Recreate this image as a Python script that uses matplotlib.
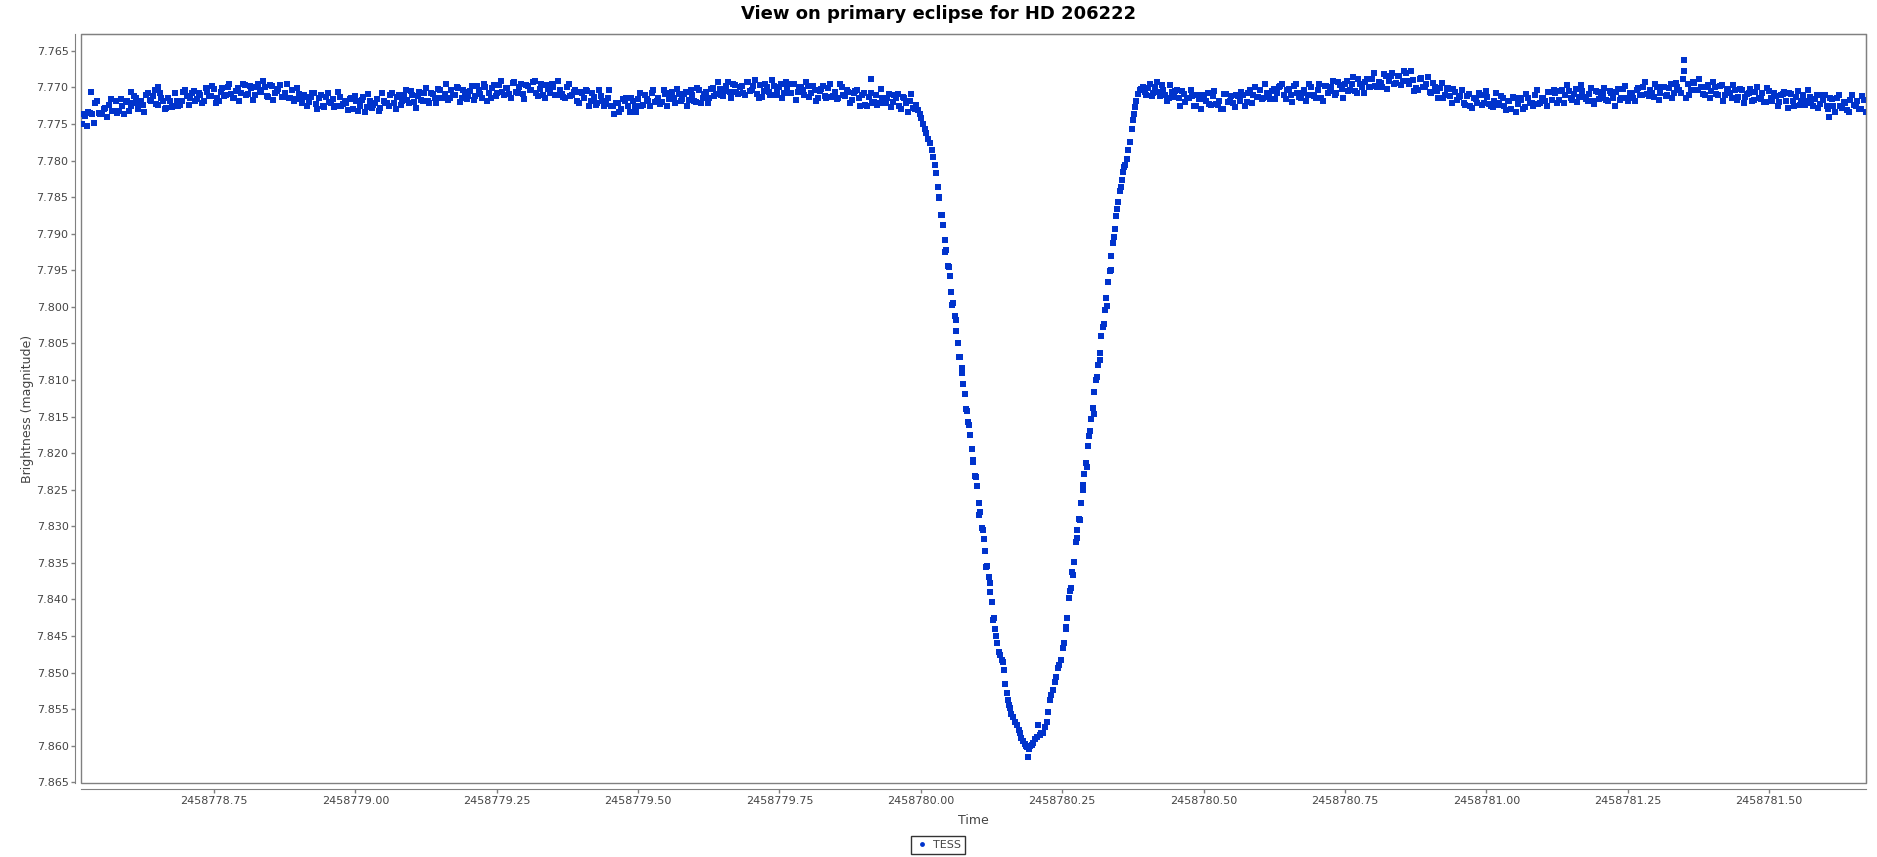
import matplotlib
matplotlib.use("Agg")
import numpy as np
import matplotlib.pyplot as plt
from matplotlib.patches import Rectangle
from matplotlib.lines import Line2D

# TESS light curve of HD 206222 around the primary eclipse
# times are BJD - 2458778, brightness in magnitudes
BJD_OFFSET = 2458778.0

pre_eclipse = [
    (0.516, 7.7750), (0.522, 7.7739), (0.528, 7.7733), (0.532, 7.7706), (0.534, 7.7736), (0.540, 7.7722),
    (0.546, 7.7735), (0.552, 7.7737), (0.558, 7.7728), (0.564, 7.7724), (0.570, 7.7732), (0.576, 7.7719),
    (0.582, 7.7732), (0.588, 7.7725), (0.594, 7.7720), (0.600, 7.7732), (0.603, 7.7706), (0.606, 7.7722),
    (0.612, 7.7715), (0.618, 7.7723), (0.624, 7.7724), (0.630, 7.7710), (0.636, 7.7717), (0.642, 7.7712),
    (0.648, 7.7723), (0.651, 7.7699), (0.654, 7.7707), (0.660, 7.7719), (0.666, 7.7728), (0.672, 7.7718),
    (0.678, 7.7726), (0.684, 7.7718), (0.690, 7.7724), (0.696, 7.7706), (0.702, 7.7712), (0.708, 7.7715),
    (0.714, 7.7705), (0.720, 7.7716), (0.726, 7.7710), (0.732, 7.7719), (0.738, 7.7706), (0.744, 7.7712),
    (0.750, 7.7702), (0.756, 7.7715), (0.762, 7.7706), (0.768, 7.7712), (0.774, 7.7699), (0.780, 7.7709),
    (0.786, 7.7714), (0.792, 7.7701), (0.798, 7.7708), (0.804, 7.7697), (0.810, 7.7709), (0.816, 7.7701),
    (0.822, 7.7711), (0.828, 7.7696), (0.834, 7.7706), (0.840, 7.7700), (0.846, 7.7713), (0.852, 7.7698),
    (0.858, 7.7708), (0.864, 7.7702), (0.870, 7.7713), (0.876, 7.7707), (0.882, 7.7715), (0.888, 7.7703),
    (0.894, 7.7716), (0.900, 7.7709), (0.906, 7.7722), (0.912, 7.7713), (0.918, 7.7720), (0.924, 7.7707),
    (0.930, 7.7723), (0.936, 7.7714), (0.942, 7.7726), (0.948, 7.7713), (0.954, 7.7720), (0.960, 7.7716),
    (0.966, 7.7725), (0.972, 7.7713), (0.978, 7.7723), (0.984, 7.7721), (0.990, 7.7716), (0.996, 7.7729),
    (1.002, 7.7719), (1.008, 7.7725), (1.014, 7.7713), (1.020, 7.7727), (1.026, 7.7719), (1.032, 7.7724),
    (1.038, 7.7716), (1.044, 7.7728), (1.050, 7.7718), (1.056, 7.7722), (1.062, 7.7710), (1.068, 7.7722),
    (1.074, 7.7713), (1.080, 7.7724), (1.086, 7.7710), (1.092, 7.7717), (1.098, 7.7705), (1.104, 7.7720),
    (1.110, 7.7712), (1.116, 7.7717), (1.122, 7.7707), (1.128, 7.7719), (1.134, 7.7708), (1.140, 7.7714),
    (1.146, 7.7702), (1.152, 7.7715), (1.158, 7.7709), (1.164, 7.7717), (1.170, 7.7704), (1.176, 7.7711),
    (1.182, 7.7701), (1.188, 7.7714), (1.194, 7.7706), (1.200, 7.7712), (1.206, 7.7698), (1.212, 7.7712),
    (1.218, 7.7704), (1.224, 7.7714), (1.230, 7.7700), (1.236, 7.7707), (1.242, 7.7701), (1.248, 7.7712),
    (1.254, 7.7697), (1.260, 7.7706), (1.266, 7.7701), (1.272, 7.7709), (1.278, 7.7694), (1.284, 7.7706),
    (1.290, 7.7699), (1.296, 7.7709), (1.302, 7.7697), (1.308, 7.7704), (1.314, 7.7693), (1.320, 7.7708),
    (1.326, 7.7702), (1.332, 7.7711), (1.338, 7.7697), (1.344, 7.7707), (1.350, 7.7700), (1.356, 7.7710),
    (1.362, 7.7703), (1.368, 7.7713), (1.374, 7.7700), (1.380, 7.7712), (1.386, 7.7706), (1.392, 7.7718),
    (1.398, 7.7706), (1.404, 7.7715), (1.410, 7.7705), (1.416, 7.7719), (1.422, 7.7713), (1.428, 7.7721),
    (1.434, 7.7712), (1.440, 7.7725), (1.446, 7.7715), (1.452, 7.7726), (1.458, 7.7737), (1.464, 7.7722),
    (1.470, 7.7729), (1.476, 7.7718), (1.482, 7.7725), (1.488, 7.7715), (1.494, 7.7725), (1.500, 7.7716),
    (1.506, 7.7725), (1.512, 7.7711), (1.518, 7.7718), (1.524, 7.7708), (1.530, 7.7720), (1.536, 7.7714),
    (1.542, 7.7720), (1.548, 7.7709), (1.554, 7.7716), (1.560, 7.7706), (1.566, 7.7721), (1.572, 7.7709),
    (1.578, 7.7716), (1.584, 7.7706), (1.590, 7.7717), (1.596, 7.7711), (1.602, 7.7720), (1.608, 7.7704),
    (1.614, 7.7714), (1.620, 7.7706), (1.626, 7.7715), (1.632, 7.7701), (1.638, 7.7709), (1.644, 7.7702),
    (1.650, 7.7712), (1.656, 7.7698), (1.662, 7.7706), (1.668, 7.7695), (1.674, 7.7706), (1.680, 7.7699),
    (1.686, 7.7707), (1.692, 7.7693), (1.698, 7.7705), (1.704, 7.7698), (1.710, 7.7709), (1.716, 7.7697),
    (1.722, 7.7705), (1.728, 7.7700), (1.734, 7.7711), (1.740, 7.7698), (1.746, 7.7706), (1.752, 7.7695),
    (1.758, 7.7707), (1.764, 7.7700), (1.770, 7.7708), (1.776, 7.7695), (1.782, 7.7706), (1.788, 7.7699),
    (1.794, 7.7711), (1.800, 7.7698), (1.806, 7.7707), (1.812, 7.7703), (1.818, 7.7714), (1.824, 7.7702),
    (1.830, 7.7712), (1.836, 7.7701), (1.842, 7.7713), (1.848, 7.7706), (1.854, 7.7714), (1.860, 7.7700),
    (1.866, 7.7712), (1.872, 7.7706), (1.878, 7.7717), (1.884, 7.7705), (1.890, 7.7714), (1.896, 7.7711),
    (1.902, 7.7724), (1.908, 7.7713), (1.912, 7.7688), (1.914, 7.7721), (1.920, 7.7710), (1.926, 7.7721),
    (1.932, 7.7714), (1.938, 7.7722), (1.944, 7.7709), (1.950, 7.7720), (1.956, 7.7714), (1.962, 7.7725),
    (1.968, 7.7713), (1.974, 7.7722), (1.980, 7.7718), (1.986, 7.7728), (1.992, 7.7724),
]

# second read of the same band (points in between the ones above)
pre_eclipse_b = [
    (0.519, 7.7736), (0.525, 7.7753), (0.531, 7.7735), (0.537, 7.7748), (0.543, 7.7719), (0.549, 7.7737),
    (0.555, 7.7729), (0.561, 7.7740), (0.567, 7.7716), (0.573, 7.7732), (0.579, 7.7735), (0.585, 7.7716),
    (0.591, 7.7737), (0.597, 7.7718), (0.603, 7.7725), (0.609, 7.7712), (0.615, 7.7729), (0.621, 7.7718),
    (0.627, 7.7733), (0.633, 7.7708), (0.639, 7.7719), (0.645, 7.7703), (0.651, 7.7724), (0.657, 7.7714),
    (0.663, 7.7729), (0.669, 7.7715), (0.675, 7.7727), (0.681, 7.7708), (0.687, 7.7726), (0.693, 7.7718),
    (0.699, 7.7704), (0.705, 7.7724), (0.711, 7.7707), (0.717, 7.7719), (0.723, 7.7708), (0.729, 7.7721),
    (0.735, 7.7701), (0.741, 7.7712), (0.747, 7.7698), (0.753, 7.7722), (0.759, 7.7719), (0.765, 7.7701),
    (0.771, 7.7711), (0.777, 7.7695), (0.783, 7.7715), (0.789, 7.7705), (0.795, 7.7718), (0.801, 7.7695),
    (0.807, 7.7710), (0.813, 7.7698), (0.819, 7.7717), (0.825, 7.7699), (0.831, 7.7703), (0.837, 7.7691),
    (0.843, 7.7712), (0.849, 7.7697), (0.855, 7.7717), (0.861, 7.7705), (0.867, 7.7697), (0.873, 7.7713),
    (0.879, 7.7695), (0.885, 7.7714), (0.891, 7.7719), (0.897, 7.7701), (0.903, 7.7716), (0.909, 7.7710),
    (0.915, 7.7726), (0.921, 7.7713), (0.927, 7.7708), (0.933, 7.7730), (0.939, 7.7711), (0.945, 7.7727),
    (0.951, 7.7708), (0.957, 7.7722), (0.963, 7.7727), (0.969, 7.7706), (0.975, 7.7725), (0.981, 7.7718),
    (0.987, 7.7731), (0.993, 7.7714), (0.999, 7.7712), (1.005, 7.7732), (1.011, 7.7717), (1.017, 7.7734),
    (1.023, 7.7709), (1.029, 7.7728), (1.035, 7.7721), (1.041, 7.7732), (1.047, 7.7708), (1.053, 7.7722),
    (1.059, 7.7726), (1.065, 7.7707), (1.071, 7.7729), (1.077, 7.7710), (1.083, 7.7718), (1.089, 7.7704),
    (1.095, 7.7722), (1.101, 7.7711), (1.107, 7.7728), (1.113, 7.7706), (1.119, 7.7718), (1.125, 7.7701),
    (1.131, 7.7721), (1.137, 7.7709), (1.143, 7.7722), (1.149, 7.7703), (1.155, 7.7714), (1.161, 7.7696),
    (1.167, 7.7715), (1.173, 7.7710), (1.179, 7.7699), (1.185, 7.7720), (1.191, 7.7703), (1.197, 7.7716),
    (1.203, 7.7705), (1.209, 7.7717), (1.215, 7.7698), (1.221, 7.7709), (1.227, 7.7695), (1.233, 7.7719),
    (1.239, 7.7715), (1.245, 7.7697), (1.251, 7.7707), (1.257, 7.7691), (1.263, 7.7710), (1.269, 7.7701),
    (1.275, 7.7715), (1.281, 7.7692), (1.287, 7.7707), (1.293, 7.7696), (1.299, 7.7716), (1.305, 7.7698),
    (1.311, 7.7703), (1.317, 7.7691), (1.323, 7.7712), (1.329, 7.7696), (1.335, 7.7715), (1.341, 7.7702),
    (1.347, 7.7695), (1.353, 7.7710), (1.359, 7.7691), (1.365, 7.7709), (1.371, 7.7714), (1.377, 7.7695),
    (1.383, 7.7710), (1.389, 7.7704), (1.395, 7.7721), (1.401, 7.7708), (1.407, 7.7704), (1.413, 7.7726),
    (1.419, 7.7708), (1.425, 7.7724), (1.431, 7.7704), (1.437, 7.7719), (1.443, 7.7723), (1.449, 7.7704),
    (1.455, 7.7726), (1.461, 7.7721), (1.467, 7.7734), (1.473, 7.7716), (1.479, 7.7714), (1.485, 7.7733),
    (1.491, 7.7718), (1.497, 7.7734), (1.503, 7.7707), (1.509, 7.7724), (1.515, 7.7716), (1.521, 7.7726),
    (1.527, 7.7703), (1.533, 7.7718), (1.539, 7.7723), (1.545, 7.7704), (1.551, 7.7726), (1.557, 7.7707),
    (1.563, 7.7715), (1.569, 7.7702), (1.575, 7.7719), (1.581, 7.7709), (1.587, 7.7726), (1.593, 7.7704),
    (1.599, 7.7718), (1.605, 7.7701), (1.611, 7.7721), (1.617, 7.7709), (1.623, 7.7721), (1.629, 7.7702),
    (1.635, 7.7712), (1.641, 7.7693), (1.647, 7.7711), (1.653, 7.7705), (1.659, 7.7693), (1.665, 7.7714),
    (1.671, 7.7697), (1.677, 7.7709), (1.683, 7.7698), (1.689, 7.7711), (1.695, 7.7692), (1.701, 7.7704),
    (1.707, 7.7690), (1.713, 7.7715), (1.719, 7.7713), (1.725, 7.7695), (1.731, 7.7706), (1.737, 7.7690),
    (1.743, 7.7710), (1.749, 7.7700), (1.755, 7.7714), (1.761, 7.7692), (1.767, 7.7707), (1.773, 7.7696),
    (1.779, 7.7717), (1.785, 7.7699), (1.791, 7.7704), (1.797, 7.7693), (1.803, 7.7713), (1.809, 7.7698),
    (1.815, 7.7718), (1.821, 7.7705), (1.827, 7.7698), (1.833, 7.7714), (1.839, 7.7695), (1.845, 7.7712),
    (1.851, 7.7716), (1.857, 7.7696), (1.863, 7.7710), (1.869, 7.7704), (1.875, 7.7721), (1.881, 7.7707),
    (1.887, 7.7703), (1.893, 7.7725), (1.899, 7.7708), (1.905, 7.7725), (1.911, 7.7707), (1.917, 7.7720),
    (1.923, 7.7724), (1.929, 7.7702), (1.935, 7.7721), (1.941, 7.7714), (1.947, 7.7727), (1.953, 7.7710),
    (1.959, 7.7709), (1.965, 7.7729), (1.971, 7.7715), (1.977, 7.7733), (1.983, 7.7709), (1.989, 7.7729),
]

ingress = [
    (1.995, 7.7731), (1.998, 7.7736), (2.001, 7.7742), (2.004, 7.7750), (2.007, 7.7757), (2.010, 7.7763),
    (2.013, 7.7770), (2.016, 7.7776), (2.019, 7.7785), (2.022, 7.7795), (2.025, 7.7806), (2.027, 7.7817),
    (2.030, 7.7836), (2.033, 7.7851), (2.036, 7.7874), (2.039, 7.7888), (2.042, 7.7909), (2.045, 7.7922),
    (2.048, 7.7944), (2.051, 7.7958), (2.054, 7.7980), (2.057, 7.7995), (2.060, 7.8012), (2.063, 7.8033),
    (2.066, 7.8049), (2.069, 7.8069), (2.072, 7.8084), (2.075, 7.8105), (2.078, 7.8119), (2.081, 7.8142),
    (2.084, 7.8157), (2.087, 7.8175), (2.090, 7.8195), (2.093, 7.8210), (2.096, 7.8231), (2.099, 7.8245),
    (2.102, 7.8268), (2.105, 7.8280), (2.108, 7.8302), (2.111, 7.8318), (2.114, 7.8334), (2.117, 7.8354),
    (2.120, 7.8370), (2.123, 7.8390), (2.126, 7.8404), (2.129, 7.8426), (2.132, 7.8441), (2.135, 7.8460),
    (2.0315, 7.7850), (2.0375, 7.7874), (2.0435, 7.7925), (2.0495, 7.7946), (2.0555, 7.7997),
    (2.0615, 7.8018), (2.0675, 7.8068), (2.0735, 7.8090), (2.0795, 7.8140), (2.0855, 7.8162),
    (2.0915, 7.8212), (2.0975, 7.8233), (2.1035, 7.8284), (2.1095, 7.8305), (2.1155, 7.8356),
    (2.1215, 7.8377), (2.1275, 7.8428), (2.1335, 7.8450),
]

eclipse_bottom = [
    (2.138, 7.8472), (2.140, 7.8476), (2.143, 7.8483), (2.145, 7.8486), (2.147, 7.8497), (2.149, 7.8515),
    (2.152, 7.8528), (2.154, 7.8538), (2.156, 7.8544), (2.158, 7.8549), (2.160, 7.8556), (2.163, 7.8561),
    (2.166, 7.8568), (2.170, 7.8572), (2.173, 7.8579), (2.175, 7.8583), (2.178, 7.8590), (2.181, 7.8593),
    (2.184, 7.8597), (2.186, 7.8600), (2.188, 7.8602), (2.189, 7.8616), (2.191, 7.8604), (2.193, 7.8601),
    (2.196, 7.8599), (2.199, 7.8596), (2.202, 7.8591), (2.205, 7.8588), (2.207, 7.8572), (2.210, 7.8585),
    (2.213, 7.8583), (2.216, 7.8582), (2.219, 7.8575), (2.223, 7.8568), (2.225, 7.8554), (2.228, 7.8538),
    (2.231, 7.8531), (2.234, 7.8524), (2.237, 7.8513), (2.239, 7.8506), (2.242, 7.8494), (2.245, 7.8489),
    (2.248, 7.8483), (2.251, 7.8467), (2.253, 7.8459),
]

egress = [
    (2.256, 7.8441), (2.259, 7.8425), (2.262, 7.8398), (2.265, 7.8384), (2.268, 7.8362), (2.271, 7.8349),
    (2.274, 7.8322), (2.277, 7.8305), (2.280, 7.8290), (2.283, 7.8268), (2.286, 7.8251), (2.289, 7.8229),
    (2.292, 7.8214), (2.295, 7.8190), (2.298, 7.8176), (2.301, 7.8153), (2.304, 7.8138), (2.307, 7.8117),
    (2.310, 7.8100), (2.313, 7.8079), (2.316, 7.8063), (2.319, 7.8040), (2.322, 7.8027), (2.325, 7.8004),
    (2.328, 7.7988), (2.331, 7.7966), (2.334, 7.7951), (2.337, 7.7930), (2.340, 7.7913), (2.343, 7.7894),
    (2.346, 7.7876), (2.349, 7.7857), (2.352, 7.7842), (2.355, 7.7827), (2.358, 7.7815), (2.361, 7.7806),
    (2.364, 7.7798), (2.367, 7.7786), (2.370, 7.7775), (2.373, 7.7757), (2.375, 7.7744), (2.377, 7.7736),
    (2.379, 7.7727), (2.381, 7.7718), (2.384, 7.7709), (2.387, 7.7704), (2.390, 7.7702), (2.393, 7.7700),
    (2.2575, 7.8438), (2.2635, 7.8389), (2.2695, 7.8366), (2.2755, 7.8316), (2.2815, 7.8292),
    (2.2875, 7.8243), (2.2935, 7.8219), (2.2995, 7.8170), (2.3055, 7.8146), (2.3115, 7.8096),
    (2.3175, 7.8073), (2.3235, 7.8023), (2.3295, 7.7999), (2.3355, 7.7950), (2.3415, 7.7904),
    (2.3475, 7.7866), (2.3535, 7.7836), (2.3595, 7.7809),
]

post_eclipse = [
    (2.396, 7.7706), (2.402, 7.7701), (2.408, 7.7712), (2.414, 7.7699), (2.420, 7.7706), (2.426, 7.7697),
    (2.432, 7.7710), (2.438, 7.7714), (2.444, 7.7706), (2.450, 7.7705), (2.456, 7.7714), (2.462, 7.7705),
    (2.468, 7.7720), (2.474, 7.7715), (2.480, 7.7712), (2.486, 7.7726), (2.492, 7.7716), (2.498, 7.7710),
    (2.504, 7.7719), (2.510, 7.7723), (2.516, 7.7712), (2.522, 7.7723), (2.528, 7.7719), (2.534, 7.7729),
    (2.540, 7.7709), (2.546, 7.7718), (2.552, 7.7722), (2.558, 7.7710), (2.564, 7.7718), (2.570, 7.7711),
    (2.576, 7.7720), (2.582, 7.7704), (2.588, 7.7711), (2.594, 7.7713), (2.600, 7.7703), (2.606, 7.7714),
    (2.612, 7.7707), (2.618, 7.7716), (2.624, 7.7702), (2.630, 7.7708), (2.636, 7.7698), (2.642, 7.7711),
    (2.648, 7.7703), (2.654, 7.7711), (2.660, 7.7698), (2.666, 7.7708), (2.672, 7.7715), (2.678, 7.7703),
    (2.684, 7.7711), (2.690, 7.7699), (2.696, 7.7712), (2.702, 7.7704), (2.708, 7.7714), (2.714, 7.7698),
    (2.720, 7.7707), (2.726, 7.7699), (2.732, 7.7710), (2.738, 7.7693), (2.744, 7.7702), (2.750, 7.7695),
    (2.756, 7.7705), (2.762, 7.7696), (2.768, 7.7705), (2.774, 7.7689), (2.780, 7.7700), (2.786, 7.7693),
    (2.792, 7.7700), (2.798, 7.7688), (2.804, 7.7698), (2.810, 7.7692), (2.816, 7.7700), (2.822, 7.7685),
    (2.828, 7.7691), (2.834, 7.7681), (2.840, 7.7694), (2.846, 7.7684), (2.852, 7.7691), (2.858, 7.7681),
    (2.864, 7.7695), (2.870, 7.7690), (2.876, 7.7701), (2.882, 7.7689), (2.888, 7.7700), (2.894, 7.7695),
    (2.900, 7.7706), (2.906, 7.7694), (2.912, 7.7705), (2.918, 7.7701), (2.924, 7.7714), (2.930, 7.7702),
    (2.936, 7.7712), (2.942, 7.7702), (2.948, 7.7717), (2.954, 7.7712), (2.960, 7.7721), (2.966, 7.7712),
    (2.972, 7.7725), (2.978, 7.7714), (2.984, 7.7722), (2.990, 7.7711), (2.996, 7.7721), (3.002, 7.7713),
    (3.008, 7.7726), (3.014, 7.7719), (3.020, 7.7724), (3.026, 7.7712), (3.032, 7.7725), (3.038, 7.7718),
    (3.044, 7.7729), (3.050, 7.7715), (3.056, 7.7723), (3.062, 7.7717), (3.068, 7.7727), (3.074, 7.7714),
    (3.080, 7.7721), (3.086, 7.7710), (3.092, 7.7723), (3.098, 7.7714), (3.104, 7.7719), (3.110, 7.7706),
    (3.116, 7.7717), (3.122, 7.7708), (3.128, 7.7717), (3.134, 7.7703), (3.140, 7.7711), (3.146, 7.7705),
    (3.152, 7.7717), (3.158, 7.7702), (3.164, 7.7713), (3.170, 7.7705), (3.176, 7.7716), (3.182, 7.7709),
    (3.188, 7.7719), (3.194, 7.7705), (3.200, 7.7716), (3.206, 7.7709), (3.212, 7.7717), (3.218, 7.7705),
    (3.224, 7.7714), (3.230, 7.7706), (3.236, 7.7717), (3.242, 7.7702), (3.248, 7.7714), (3.254, 7.7707),
    (3.260, 7.7714), (3.266, 7.7703), (3.272, 7.7711), (3.278, 7.7700), (3.284, 7.7709), (3.290, 7.7703),
    (3.296, 7.7713), (3.302, 7.7699), (3.308, 7.7707), (3.314, 7.7700), (3.320, 7.7711), (3.326, 7.7696),
    (3.332, 7.7708), (3.338, 7.7700), (3.344, 7.7707), (3.349, 7.7663), (3.350, 7.7677), (3.356, 7.7695),
    (3.362, 7.7704), (3.368, 7.7694), (3.374, 7.7704), (3.380, 7.7699), (3.386, 7.7710), (3.392, 7.7697),
    (3.398, 7.7705), (3.404, 7.7700), (3.410, 7.7711), (3.416, 7.7697), (3.422, 7.7711), (3.428, 7.7705),
    (3.434, 7.7714), (3.440, 7.7703), (3.446, 7.7713), (3.452, 7.7703), (3.458, 7.7713), (3.464, 7.7708),
    (3.470, 7.7719), (3.476, 7.7706), (3.482, 7.7714), (3.488, 7.7708), (3.494, 7.7720), (3.500, 7.7705),
    (3.506, 7.7718), (3.512, 7.7712), (3.518, 7.7720), (3.524, 7.7709), (3.530, 7.7719), (3.536, 7.7708),
    (3.542, 7.7719), (3.548, 7.7713), (3.554, 7.7724), (3.560, 7.7711), (3.566, 7.7719), (3.572, 7.7713),
    (3.578, 7.7725), (3.584, 7.7710), (3.590, 7.7723), (3.596, 7.7717), (3.602, 7.7725), (3.606, 7.7740),
    (3.608, 7.7715), (3.614, 7.7725), (3.620, 7.7715), (3.626, 7.7725), (3.632, 7.7720), (3.638, 7.7731),
    (3.644, 7.7717), (3.650, 7.7724), (3.656, 7.7718), (3.662, 7.7729), (3.668, 7.7717),
]

post_eclipse_b = [
    (2.399, 7.7711), (2.405, 7.7696), (2.411, 7.7707), (2.417, 7.7692), (2.423, 7.7712), (2.429, 7.7704),
    (2.435, 7.7718), (2.441, 7.7697), (2.447, 7.7713), (2.453, 7.7704), (2.459, 7.7725), (2.465, 7.7709),
    (2.471, 7.7715), (2.477, 7.7704), (2.483, 7.7725), (2.489, 7.7710), (2.495, 7.7729), (2.501, 7.7716),
    (2.507, 7.7708), (2.513, 7.7724), (2.519, 7.7705), (2.525, 7.7724), (2.531, 7.7730), (2.537, 7.7709),
    (2.543, 7.7720), (2.549, 7.7712), (2.555, 7.7727), (2.561, 7.7712), (2.567, 7.7706), (2.573, 7.7726),
    (2.579, 7.7707), (2.585, 7.7721), (2.591, 7.7700), (2.597, 7.7713), (2.603, 7.7716), (2.609, 7.7695),
    (2.615, 7.7713), (2.621, 7.7705), (2.627, 7.7716), (2.633, 7.7699), (2.639, 7.7696), (2.645, 7.7716),
    (2.651, 7.7702), (2.657, 7.7720), (2.663, 7.7695), (2.669, 7.7713), (2.675, 7.7707), (2.681, 7.7718),
    (2.687, 7.7695), (2.693, 7.7710), (2.699, 7.7715), (2.705, 7.7696), (2.711, 7.7718), (2.717, 7.7698),
    (2.723, 7.7705), (2.729, 7.7691), (2.735, 7.7708), (2.741, 7.7697), (2.747, 7.7714), (2.753, 7.7691),
    (2.759, 7.7704), (2.765, 7.7686), (2.771, 7.7707), (2.777, 7.7695), (2.783, 7.7708), (2.789, 7.7689),
    (2.795, 7.7699), (2.801, 7.7680), (2.807, 7.7700), (2.813, 7.7694), (2.819, 7.7682), (2.825, 7.7702),
    (2.831, 7.7684), (2.837, 7.7696), (2.843, 7.7685), (2.849, 7.7697), (2.855, 7.7678), (2.861, 7.7691),
    (2.867, 7.7678), (2.873, 7.7705), (2.879, 7.7704), (2.885, 7.7687), (2.891, 7.7700), (2.897, 7.7686),
    (2.903, 7.7707), (2.909, 7.7699), (2.915, 7.7715), (2.921, 7.7694), (2.927, 7.7711), (2.933, 7.7701),
    (2.939, 7.7722), (2.945, 7.7706), (2.951, 7.7713), (2.957, 7.7703), (2.963, 7.7724), (2.969, 7.7709),
    (2.975, 7.7728), (2.981, 7.7716), (2.987, 7.7708), (2.993, 7.7724), (2.999, 7.7705), (3.005, 7.7723),
    (3.011, 7.7727), (3.017, 7.7708), (3.023, 7.7722), (3.029, 7.7715), (3.035, 7.7731), (3.041, 7.7718),
    (3.047, 7.7713), (3.053, 7.7734), (3.059, 7.7715), (3.065, 7.7730), (3.071, 7.7709), (3.077, 7.7722),
    (3.083, 7.7725), (3.089, 7.7704), (3.095, 7.7722), (3.101, 7.7714), (3.107, 7.7725), (3.113, 7.7706),
    (3.119, 7.7703), (3.125, 7.7722), (3.131, 7.7705), (3.137, 7.7722), (3.143, 7.7697), (3.149, 7.7715),
    (3.155, 7.7709), (3.161, 7.7720), (3.167, 7.7697), (3.173, 7.7713), (3.179, 7.7718), (3.185, 7.7701),
    (3.191, 7.7723), (3.197, 7.7706), (3.203, 7.7714), (3.209, 7.7701), (3.215, 7.7718), (3.221, 7.7708),
    (3.227, 7.7725), (3.233, 7.7702), (3.239, 7.7715), (3.245, 7.7698), (3.251, 7.7718), (3.257, 7.7707),
    (3.263, 7.7719), (3.269, 7.7701), (3.275, 7.7711), (3.281, 7.7693), (3.287, 7.7712), (3.293, 7.7707),
    (3.299, 7.7695), (3.305, 7.7717), (3.311, 7.7700), (3.317, 7.7712), (3.323, 7.7701), (3.329, 7.7714),
    (3.335, 7.7694), (3.341, 7.7704), (3.347, 7.7689), (3.353, 7.7714), (3.359, 7.7710), (3.365, 7.7692),
    (3.371, 7.7704), (3.377, 7.7688), (3.383, 7.7709), (3.389, 7.7700), (3.395, 7.7715), (3.401, 7.7693),
    (3.407, 7.7709), (3.413, 7.7698), (3.419, 7.7719), (3.425, 7.7702), (3.431, 7.7708), (3.437, 7.7697),
    (3.443, 7.7717), (3.449, 7.7702), (3.455, 7.7722), (3.461, 7.7709), (3.467, 7.7702), (3.473, 7.7717),
    (3.479, 7.7699), (3.485, 7.7716), (3.491, 7.7720), (3.497, 7.7701), (3.503, 7.7715), (3.509, 7.7708),
    (3.515, 7.7725), (3.521, 7.7711), (3.527, 7.7706), (3.533, 7.7728), (3.539, 7.7709), (3.545, 7.7725),
    (3.551, 7.7705), (3.557, 7.7719), (3.563, 7.7724), (3.569, 7.7703), (3.575, 7.7722), (3.581, 7.7716),
    (3.587, 7.7728), (3.593, 7.7711), (3.599, 7.7710), (3.605, 7.7730), (3.611, 7.7716), (3.617, 7.7734),
    (3.623, 7.7710), (3.629, 7.7728), (3.635, 7.7722), (3.641, 7.7733), (3.647, 7.7710), (3.653, 7.7725),
    (3.659, 7.7730), (3.665, 7.7712), (3.671, 7.7734),
]

x_ticks = [2458778.75, 2458779.00, 2458779.25, 2458779.50, 2458779.75, 2458780.00,
           2458780.25, 2458780.50, 2458780.75, 2458781.00, 2458781.25, 2458781.50]
y_ticks = [7.765, 7.770, 7.775, 7.780, 7.785, 7.790, 7.795, 7.800, 7.805, 7.810, 7.815,
           7.820, 7.825, 7.830, 7.835, 7.840, 7.845, 7.850, 7.855, 7.860, 7.865]

points = np.array(pre_eclipse + pre_eclipse_b + ingress + eclipse_bottom + egress
                  + post_eclipse + post_eclipse_b)
time = BJD_OFFSET + points[:, 0]
mag = points[:, 1]

blue = '#0033cc'
grey = '#444444'

fig = plt.figure(figsize=(18.77, 8.57), dpi=100)
ax = fig.add_axes([81 / 1877, 74 / 857, 1785 / 1877, 749 / 857])

ax.plot(time, mag, linestyle='none', marker='s', ms=4.6, mew=0, color=blue)

ax.set_xlim(2458778.5148, 2458781.6715)
ax.set_ylim(7.8651, 7.7627)
ax.set_xticks(x_ticks)
ax.set_xticklabels([f'{v:.2f}' for v in x_ticks])
ax.set_yticks(y_ticks)
ax.set_yticklabels([f'{v:.3f}' for v in y_ticks])
ax.tick_params(axis='both', labelsize=8, labelcolor=grey, color='#808080',
               length=3, width=1, direction='out', pad=2)

# JFreeChart-like look: gray plot frame, axis lines slightly offset
for side in ['top', 'right']:
    ax.spines[side].set_color('#808080')
for side in ['left', 'bottom']:
    ax.spines[side].set_position(('outward', 4))
    ax.spines[side].set_color('#808080')
ax.add_patch(Rectangle((0, 0), 1, 1, transform=ax.transAxes, fill=False,
                       edgecolor='#808080', lw=1, clip_on=False))

ax.set_xlabel('Time', fontsize=9, color=grey, labelpad=6)
ax.set_ylabel('Brightness (magnitude)', fontsize=9, color=grey, labelpad=2)
fig.text(0.5, 1 - 14 / 857, 'View on primary eclipse for HD 206222',
         ha='center', va='center', fontsize=13, fontweight='bold', color='black')

handle = Line2D([], [], linestyle='none', marker='o', ms=3.5, color=blue, mew=0)
leg = fig.legend([handle], ['TESS'], loc='center', bbox_to_anchor=(938 / 1877, 1 - 845 / 857),
                 fontsize=8, frameon=True, fancybox=False, handlelength=1.2,
                 handletextpad=0.4, borderpad=0.35, borderaxespad=0)
leg.get_frame().set_edgecolor('black')
leg.get_frame().set_linewidth(1)
for t in leg.get_texts():
    t.set_color(grey)

fig.savefig('out.png', dpi=100)
